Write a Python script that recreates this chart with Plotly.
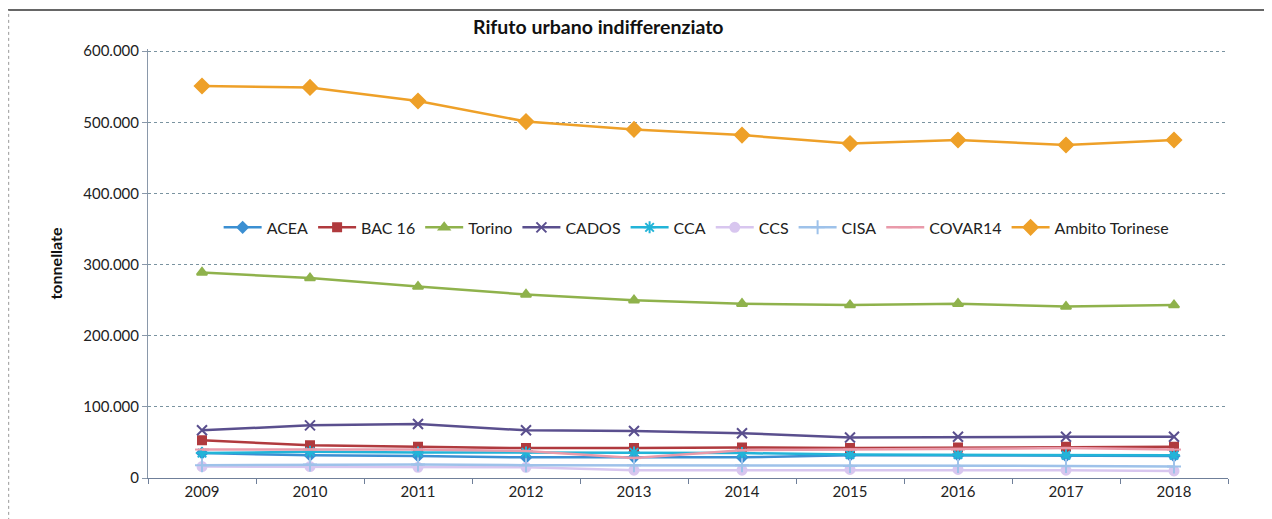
import plotly.graph_objects as go

years = ["2009", "2010", "2011", "2012", "2013", "2014", "2015", "2016", "2017", "2018"]

acea = [35000, 32000, 31000, 29000, 29000, 29000, 32000, 32000, 31000, 31000]
bac16 = [53000, 46000, 44000, 42000, 42000, 43000, 42000, 43000, 44000, 44000]
torino = [289000, 281000, 269000, 258000, 250000, 245000, 243000, 245000, 241000, 243000]
cados = [67000, 74000, 76000, 67000, 66000, 63000, 57000, 58000, 58000, 58000]
cca = [35000, 37000, 36000, 36000, 36000, 35000, 33000, 33000, 32000, 32000]
ccs = [16000, 16000, 15000, 15000, 11000, 11000, 12000, 12000, 11000, 10000]
cisa = [18000, 19000, 19000, 18000, 18000, 18000, 17000, 17000, 17000, 16000]
covar14 = [40000, 40000, 40000, 38000, 28000, 39000, 40000, 40000, 42000, 40000]
ambito = [551000, 549000, 530000, 501000, 490000, 482000, 470000, 475000, 468000, 475000]

y_ticks = [0, 100000, 200000, 300000, 400000, 500000, 600000]

series = [
    ("ACEA", acea, "#3b8fd2", "diamond", 8),
    ("BAC 16", bac16, "#b03a3e", "square", 8),
    ("Torino", torino, "#8fb24c", "triangle-up", 9),
    ("CADOS", cados, "#5a4f8e", "x-thin-open", 10),
    ("CCA", cca, "#22b4d8", "asterisk-open", 10),
    ("CCS", ccs, "#d8c6ef", "circle", 9),
    ("CISA", cisa, "#9ec2ea", "cross-thin-open", 10),
    ("COVAR14", covar14, "#e99aaa", "line-ew-open", 10),
    ("Ambito Torinese", ambito, "#eea028", "diamond", 11),
]

fig = go.Figure()
for name, vals, col, sym, sz in series:
    fig.add_trace(go.Scatter(
        x=years, y=vals, name=name, mode="lines+markers",
        line=dict(color=col, width=2.5),
        marker=dict(symbol=sym, size=sz, color=col,
                    line=dict(color=col, width=2)),
    ))

font_family = "Lato, 'Open Sans', sans-serif"

fig.update_layout(
    width=1264, height=511,
    margin=dict(l=140, r=44, t=41, b=41),
    paper_bgcolor="white", plot_bgcolor="white",
    separators=",.",
    font=dict(family=font_family, size=15, color="#222222"),
    title=dict(text="<b>Rifuto urbano indifferenziato</b>", x=0.467, xanchor="center",
               y=0.963, yanchor="middle", font=dict(size=19.5, color="#111111")),
    showlegend=True,
    legend=dict(orientation="h", x=0.508, xanchor="center", y=0.584, yanchor="middle",
                bgcolor="rgba(0,0,0,0)", font=dict(size=16, color="#222222"),
                itemwidth=38, tracegroupgap=0),
    xaxis=dict(type="category", showgrid=False, showline=True, linecolor="#6f7f99",
               linewidth=1, ticks="outside", tickson="boundaries", ticklen=5,
               tickcolor="#6f7f99", tickfont=dict(size=15, color="#222222"),
               range=[-0.5, 9.5]),
    yaxis=dict(range=[0, 603000], tickvals=y_ticks,
               tickformat=",d", showgrid=True, gridcolor="#7a93a0", griddash="dot",
               gridwidth=1, showline=True, linecolor="#8a98aa", linewidth=1,
               ticks="outside", ticklen=5, tickcolor="#8a98aa", zeroline=False,
               title=dict(text="<b>tonnellate</b>", font=dict(size=16, color="#111111"), standoff=16),
               tickfont=dict(size=15, color="#222222")),
    shapes=[
        dict(type="line", xref="paper", yref="paper", x0=-0.13, x1=1.05, y0=1.091, y1=1.091,
             line=dict(color="#333333", width=1.5)),
        dict(type="line", xref="paper", yref="paper", x0=-0.1290, x1=-0.1290, y0=-0.1, y1=1.091,
             line=dict(color="#999999", width=1, dash="dot")),
    ],
)

fig.write_html("out.html")
